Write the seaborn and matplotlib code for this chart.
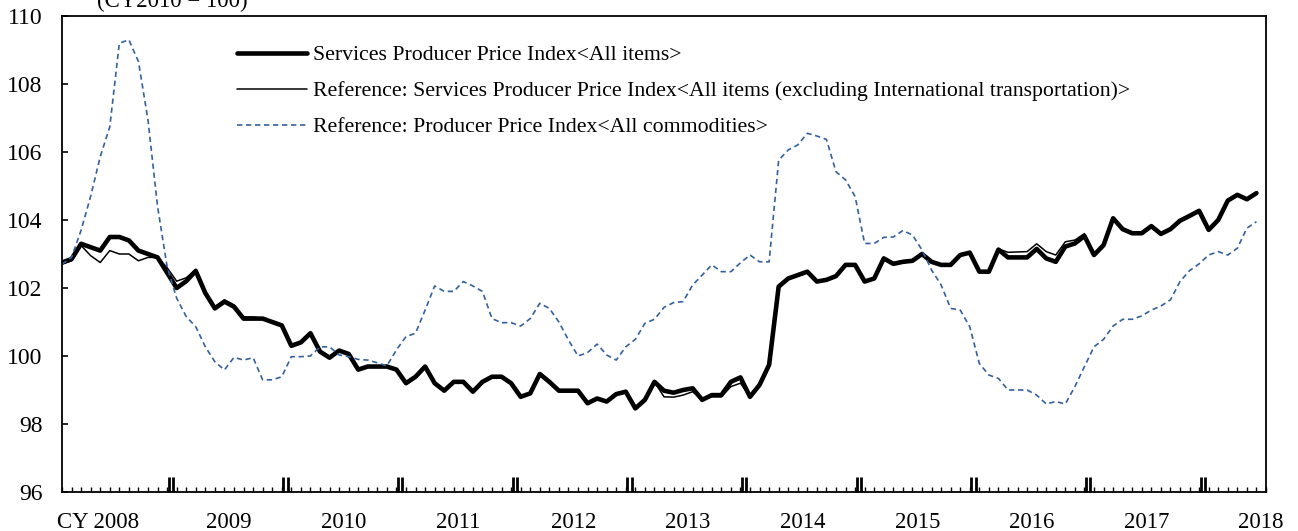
import numpy as np
import pandas as pd
import matplotlib
matplotlib.use("Agg")
import matplotlib.pyplot as plt
import matplotlib.transforms as mtransforms
import seaborn as sns

# ---------------- data (monthly, Jan 2008 - Jun 2018) ----------------
sppi_all = [
    102.75, 102.85, 103.30, 103.20, 103.10, 103.50, 103.50, 103.40, 103.10, 103.00, 102.90, 102.45,
    102.00, 102.20, 102.50, 101.85, 101.40, 101.60, 101.45, 101.10, 101.10, 101.10, 101.00, 100.90,
    100.30, 100.40, 100.67, 100.13, 99.95, 100.16, 100.06, 99.60, 99.69, 99.69, 99.69, 99.60,
    99.20, 99.39, 99.69, 99.20, 98.98, 99.24, 99.24, 98.95, 99.24, 99.39, 99.39, 99.20,
    98.80, 98.90, 99.47, 99.24, 98.98, 98.98, 98.98, 98.61, 98.75, 98.66, 98.88, 98.95,
    98.46, 98.71, 99.24, 98.98, 98.92, 99.00, 99.05, 98.71, 98.85, 98.85, 99.24, 99.37,
    98.80, 99.15, 99.74, 102.04, 102.28, 102.38, 102.48, 102.19, 102.24, 102.35, 102.68, 102.68,
    102.19, 102.28, 102.87, 102.71, 102.77, 102.80, 103.00, 102.77, 102.68, 102.68, 102.97, 103.04,
    102.48, 102.48, 103.13, 102.90, 102.90, 102.90, 103.15, 102.87, 102.77, 103.22, 103.31, 103.53,
    102.97, 103.26, 104.05, 103.73, 103.61, 103.61, 103.82, 103.59, 103.73, 103.98, 104.12, 104.27,
    103.71, 104.00, 104.57, 104.74, 104.61, 104.79,
]
sppi_ex_intl = [
    102.70, 102.80, 103.25, 102.95, 102.75, 103.10, 103.00, 103.00, 102.80, 102.90, 102.90, 102.60,
    102.20, 102.30, 102.55, 101.90, 101.45, 101.65, 101.50, 101.15, 101.15, 101.10, 101.00, 100.90,
    100.35, 100.40, 100.67, 100.15, 99.95, 100.16, 100.06, 99.62, 99.70, 99.70, 99.70, 99.62,
    99.22, 99.40, 99.69, 99.22, 99.00, 99.25, 99.25, 98.97, 99.25, 99.39, 99.39, 99.22,
    98.82, 98.92, 99.47, 99.25, 99.00, 99.00, 99.00, 98.63, 98.76, 98.68, 98.88, 98.95,
    98.48, 98.72, 99.24, 98.80, 98.79, 98.85, 98.95, 98.71, 98.80, 98.80, 99.10, 99.20,
    98.80, 99.15, 99.74, 102.04, 102.25, 102.35, 102.45, 102.17, 102.22, 102.33, 102.66, 102.66,
    102.19, 102.28, 102.90, 102.75, 102.80, 102.82, 103.00, 102.79, 102.70, 102.70, 103.00, 103.06,
    102.50, 102.50, 103.15, 103.05, 103.06, 103.07, 103.30, 103.07, 102.97, 103.36, 103.41, 103.60,
    103.00, 103.28, 104.05, 103.75, 103.65, 103.65, 103.85, 103.62, 103.76, 104.00, 104.15, 104.30,
    103.72, 104.00, 104.58, 104.75, 104.62, 104.80,
]
ppi_all = [
    102.70, 102.90, 103.70, 104.70, 105.86, 106.74, 109.20, 109.30, 108.66, 106.94, 104.40, 102.63,
    101.70, 101.16, 100.86, 100.27, 99.83, 99.59, 99.96, 99.88, 99.95, 99.30, 99.30, 99.39,
    99.98, 99.98, 100.00, 100.27, 100.27, 100.03, 99.98, 99.90, 99.88, 99.80, 99.71, 100.18,
    100.57, 100.67, 101.35, 102.06, 101.90, 101.90, 102.19, 102.06, 101.90, 101.10, 100.98, 100.98,
    100.88, 101.10, 101.55, 101.40, 101.00, 100.47, 100.00, 100.10, 100.35, 100.03, 99.88, 100.27,
    100.49, 100.96, 101.08, 101.43, 101.57, 101.60, 102.09, 102.38, 102.68, 102.48, 102.48, 102.74,
    102.97, 102.77, 102.77, 105.76, 106.06, 106.21, 106.55, 106.47, 106.37, 105.42, 105.18, 104.69,
    103.31, 103.31, 103.49, 103.50, 103.69, 103.56, 103.12, 102.53, 102.09, 101.40, 101.35, 100.86,
    99.78, 99.44, 99.34, 99.00, 99.00, 99.00, 98.85, 98.59, 98.66, 98.59, 99.10, 99.69,
    100.27, 100.49, 100.88, 101.08, 101.08, 101.18, 101.35, 101.47, 101.65, 102.19, 102.51, 102.71,
    102.97, 103.07, 102.97, 103.17, 103.76, 103.95,
]
years = ["CY 2008", "2009", "2010", "2011", "2012", "2013", "2014", "2015", "2016", "2017", "2018"]
series_labels = [
    "Services Producer Price Index<All items>",
    "Reference: Services Producer Price Index<All items (excluding International transportation)>",
    "Reference: Producer Price Index<All commodities>",
]
unit_label = "(CY2010 = 100)"

months = np.arange(len(sppi_all))
df = pd.DataFrame({"month": months, "sppi": sppi_all, "sppi_ex": sppi_ex_intl, "ppi": ppi_all})

# ---------------- style ----------------
sns.set_theme(style="white")
plt.rcParams["font.family"] = ["Liberation Serif", "DejaVu Serif"]
plt.rcParams["axes.linewidth"] = 1.3

fig = plt.figure(figsize=(12.98, 5.31), dpi=100)
ax = fig.add_axes([62 / 1298, 1 - 492 / 531, (1266 - 62) / 1298, (492 - 16) / 531])

blue = "#33619E"
sns.lineplot(data=df, x="month", y="sppi", ax=ax, color="black", linewidth=3.3,
             label=series_labels[0], solid_joinstyle="round")
sns.lineplot(data=df, x="month", y="sppi_ex", ax=ax, color="black", linewidth=1.1,
             label=series_labels[1])
sns.lineplot(data=df, x="month", y="ppi", ax=ax, color=blue, linewidth=1.2,
             linestyle=(0, (3.2, 2.2)), label=series_labels[2])

ax.set_xlim(0, 126)
ax.set_ylim(96, 110)
ax.set_xlabel("")
ax.set_ylabel("")

for s in ax.spines.values():
    s.set_visible(True)
    s.set_color("black")
    s.set_linewidth(1.3)

# y axis
ax.set_yticks(np.arange(96, 111, 2))
ax.set_yticklabels([str(v) for v in range(96, 111, 2)])
ax.tick_params(axis="y", which="major", direction="in", length=4.5, width=1.2,
               labelsize=17, pad=14, left=True, right=False, colors="black")

# x axis: year labels at mid-year, monthly minor ticks
n_years = len(years)
mid_year = [12 * i + 5.5 for i in range(n_years)]
ax.set_xticks(mid_year)
ax.set_xticklabels(years)
ax.set_xticks(np.arange(0, 127, 1), minor=True)
ax.tick_params(axis="x", which="major", length=0, labelsize=16.5, pad=14.5, colors="black")
ax.tick_params(axis="x", which="minor", direction="in", length=3.8, width=1.0,
               bottom=True, top=False, color="black")
first = ax.get_xticklabels()[0]
first.set_horizontalalignment("right")
first.set_transform(first.get_transform() + mtransforms.ScaledTranslation(25 / 100, 0, fig.dpi_scale_trans))

# thick double ticks at year boundaries
bounds = []
for i in range(0, n_years):
    b = 12 * i - 0.6
    bounds += [b - 0.22, b + 0.22]
bounds = [b for b in bounds if 0 <= b <= 126]
sec = ax.secondary_xaxis("bottom")
sec.set_xticks(bounds)
sec.tick_params(axis="x", direction="in", length=10.5, width=2.0, labelbottom=False, color="black")
sec.spines["bottom"].set_visible(False)

# legend
leg = ax.legend(loc="upper left", bbox_to_anchor=((237 - 62) / 1204, 1 - (45 - 16) / 476),
                frameon=False, fontsize=15.7, handlelength=3.2, handletextpad=0.3,
                labelspacing=0.72, borderpad=0, borderaxespad=0)
for t in leg.get_texts():
    t.set_color("black")

fig.text(97 / 1298, 1 - 7 / 531, unit_label, fontsize=16.5, ha="left", va="baseline", color="black")

fig.savefig("out.png", dpi=100, facecolor="white")
